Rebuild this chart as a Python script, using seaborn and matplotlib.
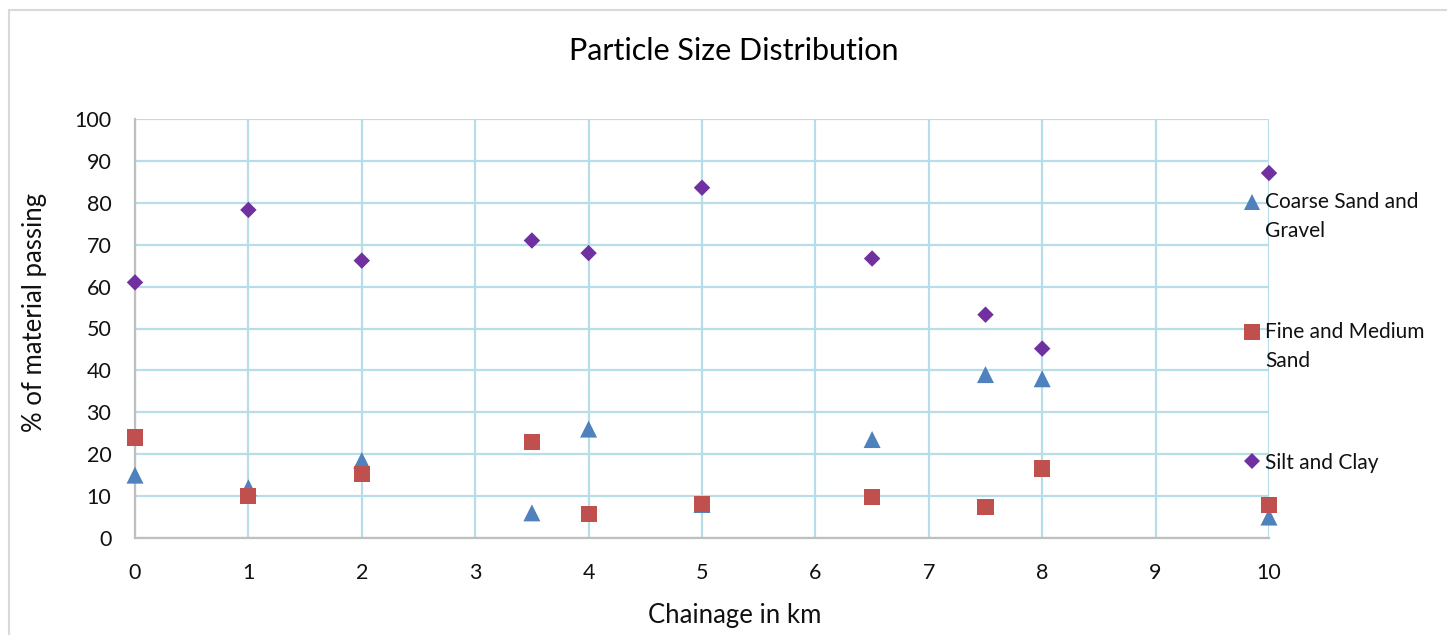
import matplotlib
matplotlib.use("Agg")
import matplotlib.pyplot as plt
from matplotlib.lines import Line2D
from matplotlib.patches import Rectangle
import pandas as pd
import seaborn as sns

# Chainage (km) and percentage of material passing for each fraction
chainage = [0, 1, 2, 3.5, 4, 5, 6.5, 7.5, 8, 10]
coarse_sand_gravel = [15, 12, 18.5, 6, 26, 8, 23.5, 39, 38, 5]
fine_medium_sand = [24, 10, 15.3, 23, 5.8, 8.2, 9.8, 7.5, 16.6, 7.8]
silt_clay = [61, 78.3, 66.2, 71, 68, 83.6, 66.7, 53.3, 45.2, 87.1]

series_names = ["Coarse Sand and Gravel", "Fine and Medium Sand", "Silt and Clay"]
legend_labels = ["Coarse Sand and\nGravel", "Fine and Medium\nSand", "Silt and Clay"]
colors = ["#4f81bd", "#c0504d", "#7030a0"]
markers = ["^", "s", "D"]
sizes = [150, 135, 70]

x_ticks = list(range(0, 11))
y_ticks = list(range(0, 101, 10))

df = pd.DataFrame({
    "Chainage": chainage * 3,
    "Percent": coarse_sand_gravel + fine_medium_sand + silt_clay,
    "Fraction": sum([[n] * len(chainage) for n in series_names], []),
})

sns.set_theme(style="white")
plt.rcParams["font.family"] = ["Lato", "DejaVu Sans"]

fig = plt.figure(figsize=(14.47, 6.35), dpi=100)
ax = fig.add_axes([135 / 1447, 1 - 538 / 635, (1269 - 135) / 1447, (538 - 119) / 635])

for name, col, mk, sz in zip(series_names, colors, markers, sizes):
    sub = df[df["Fraction"] == name]
    sns.scatterplot(data=sub, x="Chainage", y="Percent", color=col, marker=mk,
                    s=sz, edgecolor="none", ax=ax, legend=False, zorder=3,
                    clip_on=False)

ax.set_xlim(0, 10)
ax.set_ylim(0, 100)
ax.set_xticks(x_ticks)
ax.set_yticks(y_ticks)
ax.grid(True, color="#b7dde8", linewidth=1.6)
ax.set_axisbelow(True)
for side in ["top", "right"]:
    ax.spines[side].set_visible(False)
for side in ["left", "bottom"]:
    ax.spines[side].set_color("#bfbfbf")
    ax.spines[side].set_linewidth(1.6)
    ax.spines[side].set_zorder(2.5)
ax.tick_params(axis="both", length=0, labelsize=15.5, colors="#111111")
ax.tick_params(axis="x", pad=18)
ax.tick_params(axis="y", pad=17)

ax.set_xlabel("Chainage in km", fontsize=18.5, color="#111111")
ax.xaxis.set_label_coords(735 / 1447, 1 - 615 / 635, transform=fig.transFigure)
ax.set_ylabel("% of material passing", fontsize=18.5, color="#111111")
ax.yaxis.set_label_coords(35 / 1447, 1 - 312 / 635, transform=fig.transFigure)
ax.yaxis.label.set_va("center")
ax.xaxis.label.set_va("center")
fig.text(734 / 1447, 1 - 51 / 635, "Particle Size Distribution", ha="center", va="center",
         fontsize=22, color="#000000")

handles = [Line2D([], [], linestyle="none", marker=mk, color=col, markersize=ms,
                  markeredgewidth=0)
           for col, mk, ms in zip(colors, markers, [12, 11, 8.5])]
leg = ax.legend(handles, legend_labels, loc="upper left",
                bbox_to_anchor=(1233 / 1447, 1 - 182 / 635), bbox_transform=fig.transFigure,
                frameon=False, fontsize=15, handlelength=0.8, handletextpad=0.25,
                labelspacing=3.9, borderpad=0)
for t in leg.get_texts():
    t.set_linespacing(1.55)
    t.set_color("#111111")
# keep the marker beside the first line of each wrapped label
for h, lab in zip(leg.legend_handles, legend_labels):
    if "\n" in lab:
        h.set_ydata([y + 11.0 for y in h.get_ydata()])

# outer chart frame
fig.patches.append(Rectangle((9 / 1447, -0.05), 1.2, 1 - 10 / 635 + 0.05,
                             transform=fig.transFigure, fill=False,
                             edgecolor="#d9d9d9", linewidth=1.5))

fig.savefig("out.png", dpi=100)
